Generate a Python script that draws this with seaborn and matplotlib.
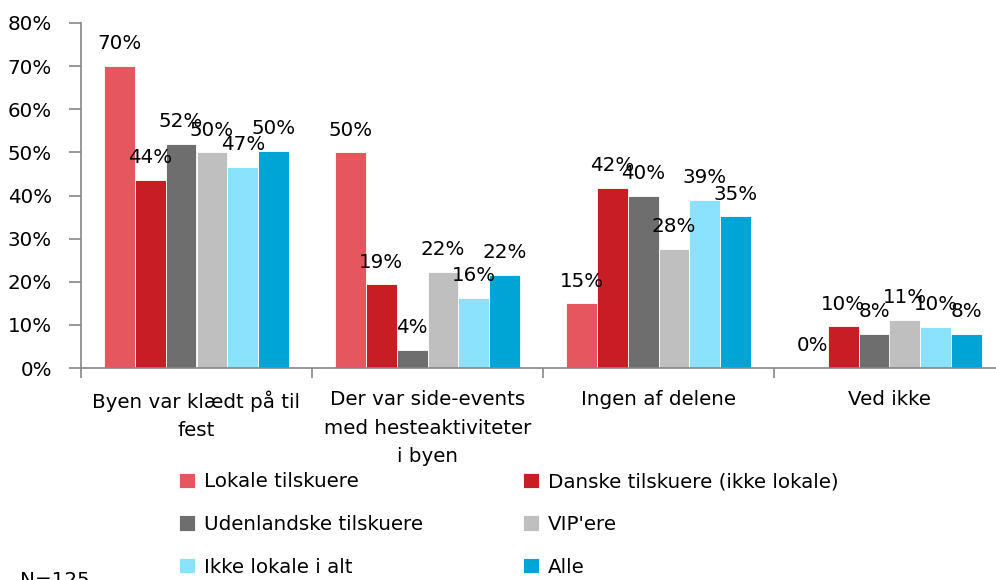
import pandas as pd
import matplotlib
matplotlib.use('Agg')
import matplotlib.pyplot as plt
import seaborn as sns
from matplotlib.ticker import FixedLocator

# --- data ---
categories = ['Byen var klædt på til\nfest',
              'Der var side-events\nmed hesteaktiviteter\ni byen',
              'Ingen af delene',
              'Ved ikke']
series = ['Lokale tilskuere', 'Danske tilskuere (ikke lokale)',
          'Udenlandske tilskuere', "VIP'ere",
          'Ikke lokale i alt', 'Alle']
lokale = [70, 50, 15, 0]
danske = [43.6, 19.4, 41.8, 9.7]
udenlandske = [52, 4.2, 40, 8]
vip = [50, 22.3, 27.7, 11.1]
ikke_lokale = [46.6, 16.2, 39, 9.6]
alle = [50.4, 21.6, 35.2, 8]
colors = ['#E5565F', '#C81D25', '#6E6E6E', '#BFBFBF', '#8AE2FC', '#00A5D6']
note = 'N=125'

# --- long format for seaborn ---
rows = []
for name, vals in zip(series, [lokale, danske, udenlandske, vip, ikke_lokale, alle]):
    for cat, v in zip(categories, vals):
        rows.append({'cat': cat, 'serie': name, 'value': v})
df = pd.DataFrame(rows)

sns.set_style('white')
plt.rcParams['font.family'] = ['DejaVu Sans']
plt.rcParams['text.color'] = 'black'
plt.rcParams['xtick.labelcolor'] = 'black'
plt.rcParams['ytick.labelcolor'] = 'black'
FS = 14.3

fig = plt.figure(figsize=(9.96, 5.8), dpi=100)
ax = fig.add_axes([81 / 996, 1 - 368 / 580, 924 / 996, 345 / 580])

sns.barplot(data=df, x='cat', y='value', hue='serie', order=categories,
            hue_order=series, palette=colors, width=0.8, gap=0,
            edgecolor='white', linewidth=0.6, saturation=1, ax=ax, legend=True)

# value labels above bars
for cont in ax.containers:
    for bar in cont:
        h = bar.get_height()
        ax.annotate(f'{h:.0f}%', (bar.get_x() + bar.get_width() / 2, h),
                    xytext=(0, 12), textcoords='offset points',
                    ha='center', va='baseline', fontsize=FS, color='black')

ax.set_ylim(0, 80)
ax.set_xlim(-0.5, 3.5)
ax.set_yticks(range(0, 81, 10))
ax.set_yticklabels([f'{t}%' for t in range(0, 81, 10)], fontsize=FS)
ax.set_xlabel('')
ax.set_ylabel('')
ax.set_xticks(range(len(categories)))
ax.set_xticklabels(categories, fontsize=FS, linespacing=1.62)
ax.xaxis.set_minor_locator(FixedLocator([-0.5, 0.5, 1.5, 2.5, 3.5]))
ax.tick_params(axis='x', which='major', length=0, pad=16)
ax.tick_params(axis='x', which='minor', length=7, color='#868686', width=1.2, direction='out', bottom=True)
ax.tick_params(axis='y', length=9, color='#868686', width=1.2, direction='out', pad=12, left=True)

for s in ['top', 'right']:
    ax.spines[s].set_visible(False)
for s in ['left', 'bottom']:
    ax.spines[s].set_color('#868686')
    ax.spines[s].set_linewidth(1.2)

# legend: two columns, row-wise order
handles, labels = ax.get_legend_handles_labels()
ax.get_legend().remove()
order = [0, 2, 4, 1, 3, 5]
fig.legend([handles[i] for i in order], [labels[i] for i in order],
           ncol=2, loc='upper left', bbox_to_anchor=(179 / 996, 1 - 472 / 580),
           frameon=False, fontsize=FS, handlelength=0.8, handleheight=0.8,
           handletextpad=0.45, labelspacing=1.2, columnspacing=5.05, borderpad=0,
           borderaxespad=0)

fig.text(20 / 996, 1 - 571 / 580, note, fontsize=FS, ha='left', va='top')

fig.savefig('out.png', dpi=100)
